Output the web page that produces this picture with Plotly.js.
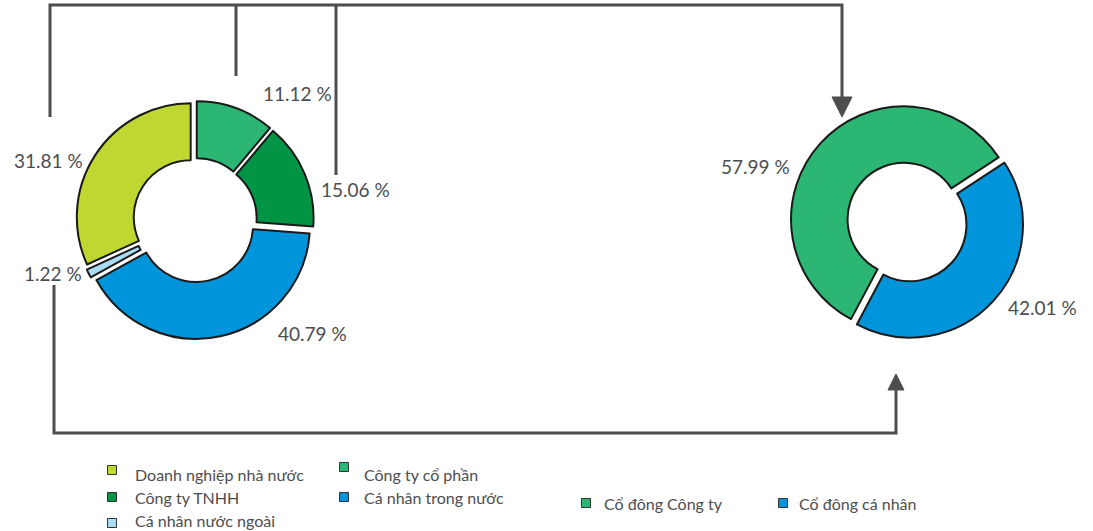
<!DOCTYPE html>
<html><head><meta charset="utf-8">
<script src="https://cdn.plot.ly/plotly-3.0.1.min.js"></script>
<style>html,body{margin:0;padding:0;background:#fff}#chart{width:1093px;height:531px}</style>
</head><body><div id="chart"></div>
<script>
const W = 1093, H = 531;

// ---- data ----
const leftLabels = ["Công ty cổ phần", "Công ty TNHH", "Cá nhân trong nước", "Cá nhân nước ngoài", "Doanh nghiệp nhà nước"];
const leftValues = [11.12, 15.06, 40.79, 1.22, 31.81];
const rightLabels = ["Cổ đông Công ty", "Cổ đông cá nhân"];
const rightValues = [57.99, 42.01];

// ---- styles / positions ----
const leftColors = ["#2bb673", "#009444", "#0095da", "#a8ddf5", "#bfd730"];
const rightColors = ["#2bb673", "#0095da"];
const leftLabelPos = [[297, 93], [355, 190], [312, 333], [53, 273], [48, 160]];
const rightLabelPos = [[755, 167], [1042, 307]];
const leftLegendSq = [[344, 467], [112, 497], [344, 497], [112, 523], [112, 470]];
const leftLegendTx = [[362, 474], [133, 497], [362, 497], [133, 520], [133, 474]];
const rightLegendSq = [[586, 503], [783, 503]];
const rightLegendTx = [[602, 503], [797, 503]];

const FONT = "Lato, 'Noto Sans', sans-serif";
const TXT = "#4d4d4f";
const px = x => x / W;
const py = y => 1 - y / H;
function path(pts, close) {
  return pts.map((p, i) => (i ? "L" : "M") + px(p[0]).toFixed(5) + "," + py(p[1]).toFixed(5)).join(" ") + (close ? " Z" : "");
}
function dom(cx, cy, half) {
  return {x: [px(cx - half), px(cx + half)], y: [py(cy + half), py(cy - half)]};
}

const traces = [
  {type: "pie", labels: leftLabels, values: leftValues, sort: false, direction: "clockwise", rotation: 0,
   hole: 0.5, pull: leftValues.map(() => 0.045), textinfo: "none", hoverinfo: "none", showlegend: false,
   marker: {colors: leftColors, line: {color: "#1a1a1a", width: 2}}, domain: dom(195, 220, 119)},
  {type: "pie", labels: rightLabels, values: rightValues, sort: false, direction: "clockwise", rotation: 208,
   hole: 0.5, pull: rightValues.map(() => 0.035), textinfo: "none", hoverinfo: "none", showlegend: false,
   marker: {colors: rightColors, line: {color: "#1a1a1a", width: 2}}, domain: dom(907, 222, 117)}
];

const annotations = [];
const fmt = v => v.toFixed(2) + " %";
leftValues.forEach((v, i) => annotations.push({xref: "paper", yref: "paper", x: px(leftLabelPos[i][0]), y: py(leftLabelPos[i][1]),
  text: fmt(v), showarrow: false, xanchor: "center", yanchor: "middle", font: {family: FONT, size: 19, color: TXT}}));
rightValues.forEach((v, i) => annotations.push({xref: "paper", yref: "paper", x: px(rightLabelPos[i][0]), y: py(rightLabelPos[i][1]),
  text: fmt(v), showarrow: false, xanchor: "center", yanchor: "middle", font: {family: FONT, size: 19, color: TXT}}));
leftLabels.forEach((t, i) => annotations.push({xref: "paper", yref: "paper", x: px(leftLegendTx[i][0]), y: py(leftLegendTx[i][1]),
  text: t, showarrow: false, xanchor: "left", yanchor: "middle", font: {family: FONT, size: 16, color: TXT}}));
rightLabels.forEach((t, i) => annotations.push({xref: "paper", yref: "paper", x: px(rightLegendTx[i][0]), y: py(rightLegendTx[i][1]),
  text: t, showarrow: false, xanchor: "left", yanchor: "middle", font: {family: FONT, size: 16, color: TXT}}));

const LC = "#4d4d4f";
const shapes = [];
function line(pts) { shapes.push({type: "path", xref: "paper", yref: "paper", path: path(pts, false), line: {color: LC, width: 3}}); }
function tri(pts) { shapes.push({type: "path", xref: "paper", yref: "paper", path: path(pts, true), fillcolor: LC, line: {color: LC, width: 1}}); }
line([[50, 117], [50, 5], [842, 5], [842, 98]]);
line([[236, 5], [236, 76]]);
line([[336, 5], [336, 175]]);
tri([[832, 97], [852, 97], [842, 117]]);
line([[54, 285], [54, 433], [896, 433], [896, 389]]);
tri([[888, 390], [904, 390], [896, 374]]);
function sq(c, color) {
  const s = 4.5;
  shapes.push({type: "rect", xref: "paper", yref: "paper", x0: px(c[0] - s), x1: px(c[0] + s), y0: py(c[1] + s), y1: py(c[1] - s),
    fillcolor: color, line: {color: "#333", width: 1}});
}
leftLegendSq.forEach((c, i) => sq(c, leftColors[i]));
rightLegendSq.forEach((c, i) => sq(c, rightColors[i]));

Plotly.newPlot("chart", traces, {
  width: W, height: H, margin: {l: 0, r: 0, t: 0, b: 0},
  paper_bgcolor: "#fff", plot_bgcolor: "#fff", showlegend: false,
  annotations: annotations, shapes: shapes, font: {family: FONT}
}, {displayModeBar: false, staticPlot: true});
</script></body></html>
